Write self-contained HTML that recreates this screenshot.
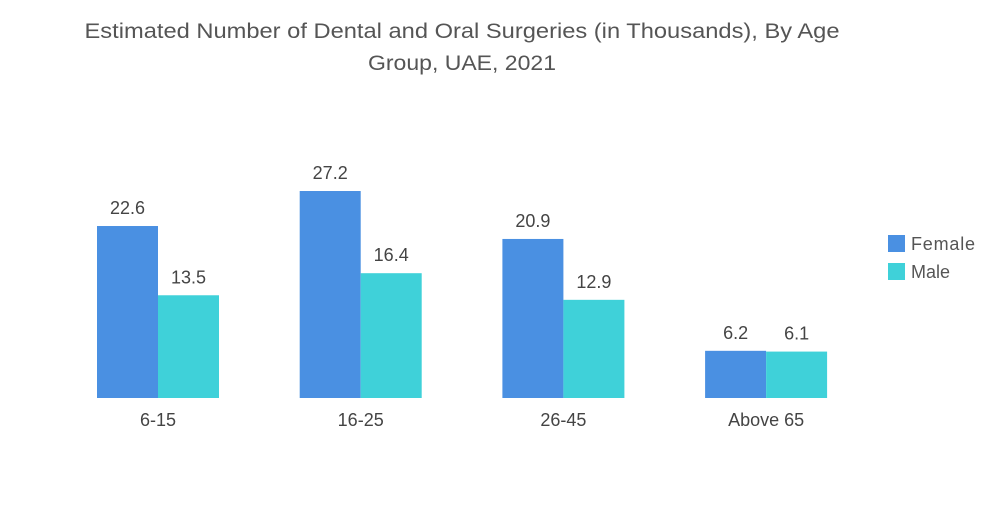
<!DOCTYPE html>
<html><head><meta charset="utf-8"><style>
body{margin:0;background:#fff;font-family:"Liberation Sans",sans-serif;}
</style></head><body>
<svg width="1000" height="504" xmlns="http://www.w3.org/2000/svg">
<text x="462" y="38" text-anchor="middle" font-size="21" fill="#555" textLength="755" lengthAdjust="spacingAndGlyphs">Estimated Number of Dental and Oral Surgeries (in Thousands), By Age</text>
<text x="462" y="70" text-anchor="middle" font-size="21" fill="#555" textLength="188" lengthAdjust="spacingAndGlyphs">Group, UAE, 2021</text>
<g id="bars"></g>
<rect x="888" y="235" width="17" height="17" fill="#4a90e2"/>
<text x="911" y="250" font-size="18" fill="#555" textLength="64">Female</text>
<rect x="888" y="263" width="17" height="17" fill="#3fd1d9"/>
<text x="911" y="278" font-size="18" fill="#555">Male</text>
</svg>
<script>
const categories=["6-15","16-25","26-45","Above 65"];
const female=[22.6,27.2,20.9,6.2];
const male=[13.5,16.4,12.9,6.1];
const base=398, scale=7.61, barW=61, x0=158, step=202.7;
const y=v=>base-v*scale;
const g=document.getElementById('bars');
const NS="http://www.w3.org/2000/svg";
function mk(t,a){const e=document.createElementNS(NS,t);for(const k in a)e.setAttribute(k,a[k]);g.appendChild(e);return e;}
categories.forEach((c,i)=>{
  const cx=x0+i*step;
  [[female[i],cx-barW,'#4a90e2','female'],[male[i],cx,'#3fd1d9','male']].forEach(([v,x,col,s])=>{
    const r=mk('rect',{x:x,y:y(v),width:barW,height:v*scale,fill:col});
    
    
    const t=mk('text',{x:x+barW/2,y:y(v)-12,'text-anchor':'middle','font-size':18,fill:'#444'});
    t.textContent=v.toFixed(1);
    
    
  });
  const l=mk('text',{x:cx,y:426,'text-anchor':'middle','font-size':18,fill:'#444'});
  l.textContent=c;
  
  
});
</script>
</body></html>
